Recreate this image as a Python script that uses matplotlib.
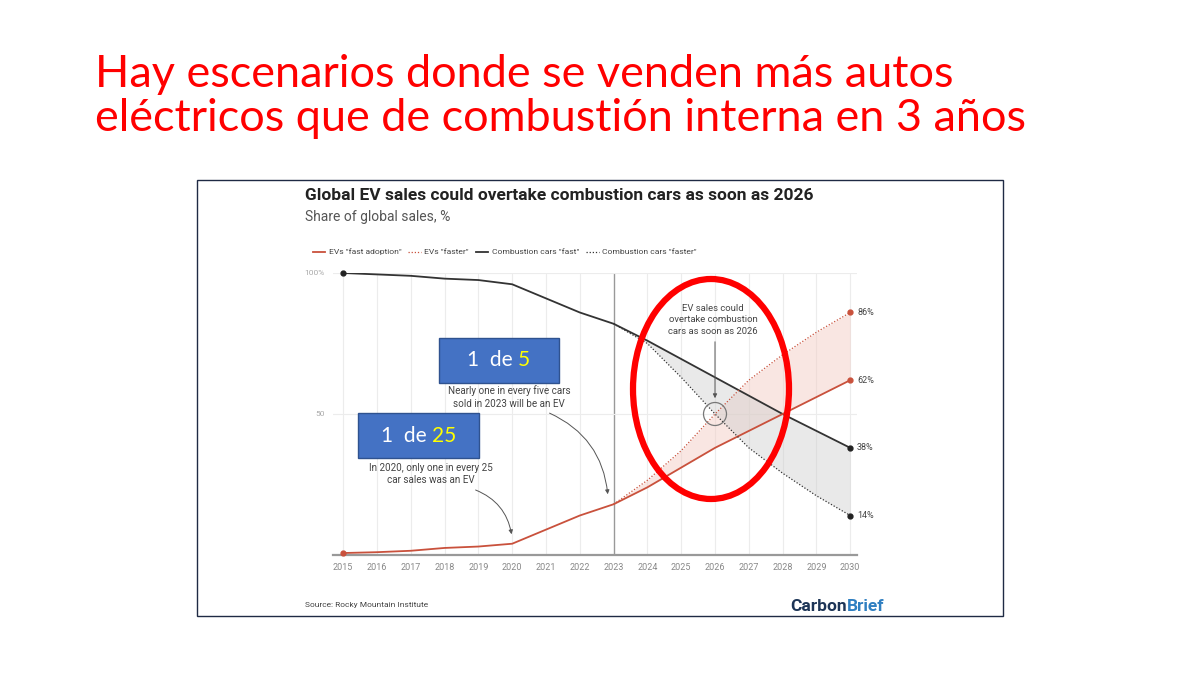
import matplotlib
matplotlib.use("Agg")
import matplotlib.pyplot as plt
from matplotlib.patches import Rectangle, Ellipse
from matplotlib.lines import Line2D
import numpy as np

# ---------------- data ----------------
years = [2015, 2016, 2017, 2018, 2019, 2020, 2021, 2022, 2023,
         2024, 2025, 2026, 2027, 2028, 2029, 2030]
ev_fast = [0.7, 1.0, 1.5, 2.5, 3.0, 4.0, 9.0, 14.0, 18.0,
           24.0, 31.0, 38.0, 44.0, 50.0, 56.0, 62.0]
comb_fast = [100.0, 99.5, 99.0, 98.0, 97.5, 96.0, 91.0, 86.0, 82.0,
             76.0, 69.5, 63.0, 56.5, 50.0, 44.0, 38.0]
proj_years = [2023, 2024, 2025, 2026, 2027, 2028, 2029, 2030]
ev_faster = [18.0, 26.5, 37.0, 50.0, 62.0, 71.0, 79.0, 86.0]
comb_faster = [82.0, 75.0, 63.0, 50.0, 38.0, 29.0, 21.0, 14.0]
end_labels = ["86%", "62%", "38%", "14%"]
end_values = [86, 62, 38, 14]
legend_labels = ['EVs "fast adoption"', 'EVs "faster"',
                 'Combustion cars "fast"', 'Combustion cars "faster"']

W, H = 1200, 675
fig = plt.figure(figsize=(12, 6.75), dpi=100)
fig.patch.set_facecolor("white")


def fx(px):
    return px / W


def fy(py):
    return 1 - py / H


RED = "#c9513c"
DARK = "#333333"
SANS = ["Roboto", "DejaVu Sans"]
SLIDE = ["Lato", "DejaVu Sans"]

# slide title
fig.text(fx(95), fy(87), "Hay escenarios donde se venden más autos",
         color="#ff0000", fontsize=32.4, family=SLIDE, ha="left", va="baseline")
fig.text(fx(95), fy(131), "eléctricos que de combustión interna en 3 años",
         color="#ff0000", fontsize=32.4, family=SLIDE, ha="left", va="baseline")

# chart image border
fig.patches.append(Rectangle((fx(197), fy(616)), fx(1003 - 197), (616 - 180) / H,
                             transform=fig.transFigure, fill=False,
                             edgecolor="#1f2a44", linewidth=1.0))

# chart title
fig.text(fx(305), fy(200), "Global EV sales could overtake combustion cars as soon as 2026",
         fontsize=12.5, fontweight="bold", family=SANS, color="#222222",
         ha="left", va="baseline")
fig.text(fx(305), fy(221), "Share of global sales, %", fontsize=10,
         family=SANS, color="#555555", ha="left", va="baseline")

# axes
ax = fig.add_axes([fx(333), fy(555), fx(857 - 333), (555 - 273) / H])
ax.set_xlim(2014.7, 2030.2)
ax.set_ylim(0, 100)
ax.patch.set_alpha(0)
for s in ax.spines.values():
    s.set_visible(False)
ax.set_xticks(years)
ax.set_xticklabels([str(y) for y in years], fontsize=6.5, color="#888888",
                   family=SANS)
ax.tick_params(axis="x", length=0, pad=6)
ax.set_yticks([])
for y in years:
    ax.axvline(y, color="#999999" if y == 2023 else "#ececec",
               linewidth=1.0 if y == 2023 else 0.8, zorder=0)
ax.axhline(50, color="#ececec", linewidth=0.8, zorder=0)
ax.axhline(100, color="#ececec", linewidth=0.8, zorder=0)
ax.axhline(0, color="#999999", linewidth=1.6, zorder=1, clip_on=False)
ax.text(2014.45, 100, "100%", fontsize=6, color="#aaaaaa", family=SANS,
        ha="right", va="center")
ax.text(2014.45, 50, "50", fontsize=6, color="#aaaaaa", family=SANS,
        ha="right", va="center")

# fills
pf = np.array(proj_years)
i23 = years.index(2023)
ax.fill_between(pf, ev_fast[i23:], ev_faster, color="#f3c9c0", alpha=0.45,
                linewidth=0, zorder=1)
ax.fill_between(pf, comb_fast[i23:], comb_faster, color="#cfcfcf", alpha=0.45,
                linewidth=0, zorder=1)

# lines
dot = (0, (1, 1.5))
ax.plot(years, comb_fast, color=DARK, linewidth=1.3, zorder=3)
ax.plot(years, ev_fast, color=RED, linewidth=1.3, zorder=3)
ax.plot(proj_years, ev_faster, color=RED, linewidth=0.9, linestyle=dot, zorder=3)
ax.plot(proj_years, comb_faster, color=DARK, linewidth=0.9, linestyle=dot, zorder=3)

# markers
mk = dict(marker="o", ms=3.5, clip_on=False, zorder=4, linestyle="none")
ax.plot([years[0]], [comb_fast[0]], color="#222222", **mk)
ax.plot([years[0]], [ev_fast[0]], color=RED, **mk)
ax.plot([2030, 2030], [ev_faster[-1], ev_fast[-1]], color=RED, **mk)
ax.plot([2030, 2030], [comb_fast[-1], comb_faster[-1]], color="#222222", **mk)
for lab, v in zip(end_labels, end_values):
    ax.text(2030.2, v, lab, fontsize=6.5, color="#444444", family=SANS,
            ha="left", va="center", clip_on=False)


def fig_px(px, py):
    return (fx(px), fy(py))


ann_kw = dict(fontsize=7.1, color="#444444", family=SANS, ha="center", va="center",
              linespacing=1.3, transform=fig.transFigure)
fig.text(*fig_px(509, 397), "Nearly one in every five cars\nsold in 2023 will be an EV", **ann_kw)
fig.text(*fig_px(431, 474), "In 2020, only one in every 25\ncar sales was an EV", **ann_kw)
fig.text(*fig_px(713, 320), "EV sales could\novertake combustion\ncars as soon as 2026",
         **dict(ann_kw, fontsize=6.8))

arrow_kw = dict(arrowstyle="-|>", color="#555555", linewidth=0.7, mutation_scale=6)
ax.annotate("", xy=fig_px(608, 497), xytext=fig_px(547, 412),
            xycoords="figure fraction", textcoords="figure fraction",
            arrowprops=dict(connectionstyle="arc3,rad=-0.3", **arrow_kw))
ax.annotate("", xy=fig_px(512, 537), xytext=fig_px(473, 489),
            xycoords="figure fraction", textcoords="figure fraction",
            arrowprops=dict(connectionstyle="arc3,rad=-0.3", **arrow_kw))
ax.annotate("", xy=fig_px(715, 401), xytext=fig_px(715, 339),
            xycoords="figure fraction", textcoords="figure fraction",
            arrowprops=dict(connectionstyle="arc3,rad=0", **arrow_kw))

# highlight circle
fig.patches.append(Ellipse((fx(715), fy(414)), 23 / W, 23 / H, transform=fig.transFigure,
                           fill=False, edgecolor="#777777", linewidth=0.9, zorder=5))

# legend
handles = [Line2D([], [], color=RED, lw=1.3),
           Line2D([], [], color=RED, lw=0.9, ls=dot),
           Line2D([], [], color=DARK, lw=1.3),
           Line2D([], [], color=DARK, lw=0.9, ls=dot)]
fig.legend(handles, legend_labels, loc="center left",
           bbox_to_anchor=(fx(305), fy(252)), ncol=4, frameon=False,
           handlelength=1.5, handletextpad=0.4, columnspacing=0.8,
           labelcolor="#444444", prop={"family": SANS, "size": 6.1})


# blue boxes
def blue_box(x0, y0, x1, y1, white, yellow, split_x, cy):
    fig.patches.append(Rectangle((fx(x0), fy(y1)), fx(x1 - x0), (y1 - y0) / H,
                                 transform=fig.transFigure, facecolor="#4472c4",
                                 edgecolor="#2f528f", linewidth=1.0, zorder=6))
    fig.text(fx(split_x - 3), fy(cy), white, color="white", fontsize=15,
             family=SLIDE, ha="right", va="center", zorder=7)
    fig.text(fx(split_x + 2), fy(cy), yellow, color="#ffff00", fontsize=15,
             family=SLIDE, ha="left", va="center", zorder=7)


blue_box(439, 338, 559, 383, "1  de", "5", 516, 360)
blue_box(358, 413, 479, 458, "1  de", "25", 430, 436)

# red ellipse
fig.patches.append(Ellipse((fx(711), fy(389)), 156 / W, 220 / H,
                           transform=fig.transFigure, fill=False,
                           edgecolor="#ff0000", linewidth=4.5, zorder=8))

# source & logo
fig.text(fx(305), fy(607), "Source: Rocky Mountain Institute", fontsize=6,
         color="#444444", family=SANS, ha="left", va="baseline")
t_carbon = fig.text(fx(790), fy(611), "Carbon", fontsize=12.5, fontweight="bold",
                    family=SANS, color="#1d3557", ha="left", va="baseline")
fig.canvas.draw()
bb = t_carbon.get_window_extent()
fig.text(bb.x1 / W + 0.0005, fy(611), "Brief", fontsize=12.5, fontweight="bold",
         family=SANS, color="#2f7fc1", ha="left", va="baseline")

fig.savefig("out.png", dpi=100, facecolor="white")
